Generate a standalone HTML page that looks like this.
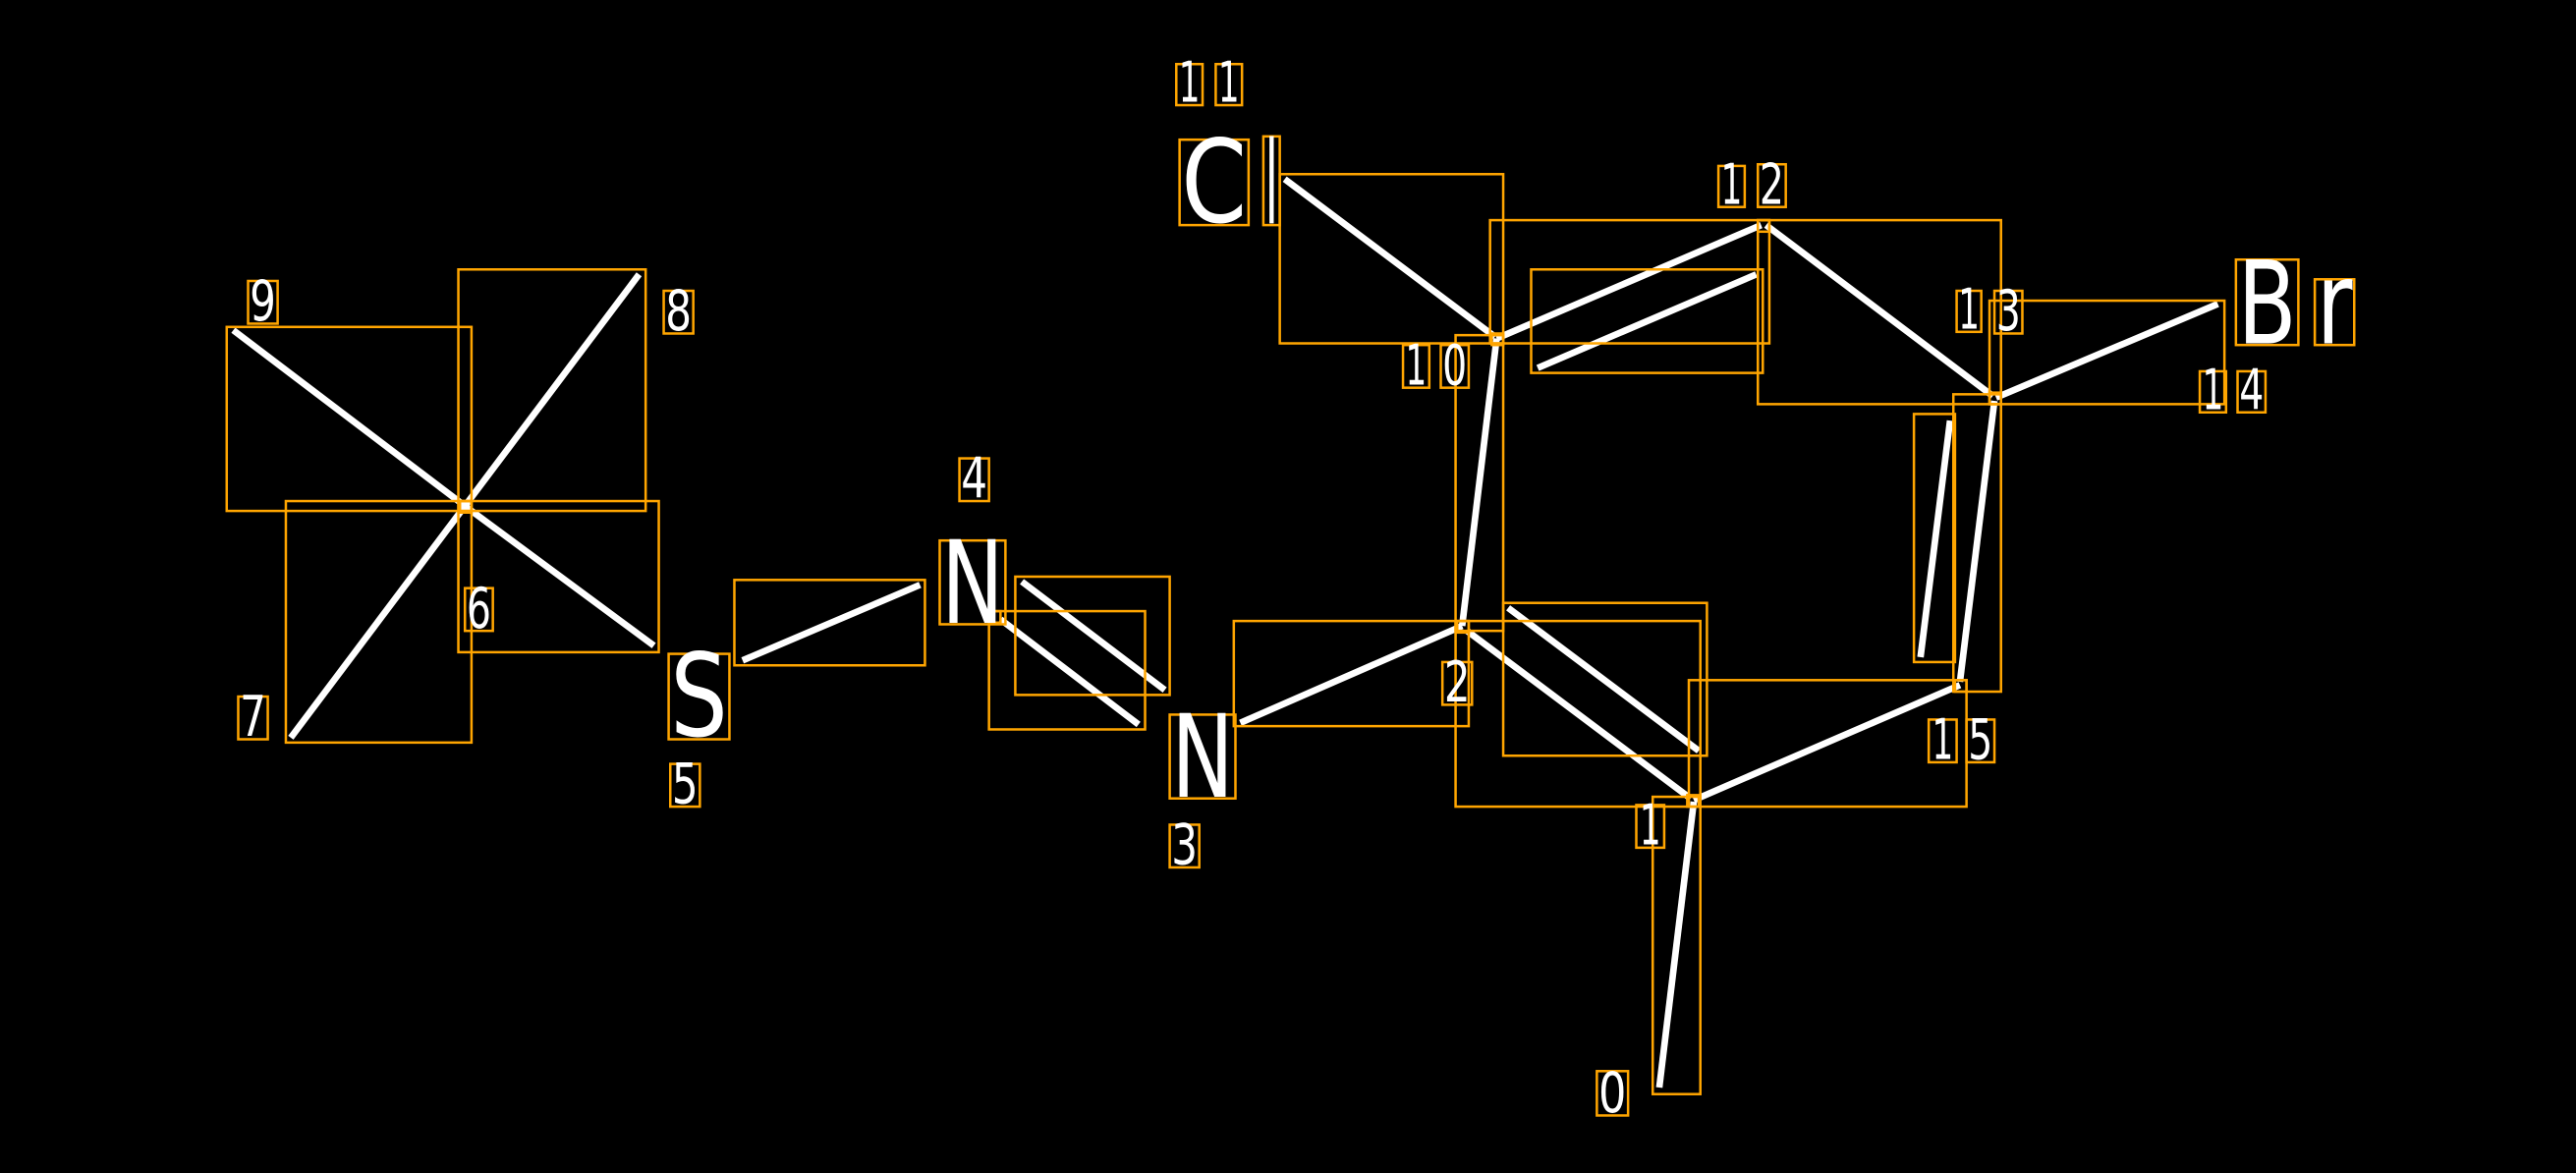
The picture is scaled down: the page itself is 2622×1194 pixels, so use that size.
<!DOCTYPE html>
<html><head><meta charset="utf-8"><style>html,body{margin:0;padding:0;background:#000;width:2622px;height:1194px;overflow:hidden}svg{display:block}</style></head><body>
<svg width="2622" height="1194" viewBox="0 0 1568 714" xmlns="http://www.w3.org/2000/svg">
<rect width="1568" height="714" fill="#000"/>
<g stroke="#fff" stroke-width="4" stroke-linecap="butt">
<line x1="1010" y1="662" x2="1031" y2="488"/>
<line x1="893" y1="384" x2="1029" y2="486"/>
<line x1="918" y1="370" x2="1034" y2="457"/>
<line x1="890" y1="381" x2="755" y2="440"/>
<line x1="609" y1="377" x2="693" y2="441"/>
<line x1="622" y1="354" x2="709" y2="420"/>
<line x1="452" y1="402" x2="560" y2="356"/>
<line x1="398" y1="393" x2="283" y2="308"/>
<line x1="283" y1="308" x2="177" y2="449"/>
<line x1="283" y1="308" x2="389" y2="167"/>
<line x1="142" y1="201" x2="283" y2="308"/>
<line x1="890" y1="381" x2="911" y2="206"/>
<line x1="782" y1="109" x2="910" y2="205"/>
<line x1="911" y1="206" x2="1072" y2="137"/>
<line x1="936" y1="224" x2="1069" y2="167"/>
<line x1="1075" y1="137" x2="1213" y2="241"/>
<line x1="1215" y1="242" x2="1350" y2="185"/>
<line x1="1214" y1="244" x2="1193" y2="415"/>
<line x1="1187" y1="256" x2="1169" y2="400"/>
<line x1="1031" y1="487" x2="1193" y2="417"/>
</g>
<g fill="none" stroke="#FFA500" stroke-width="1.5">
<rect x="1006" y="485" width="29" height="181"/>
<rect x="886" y="378" width="149" height="113"/>
<rect x="915" y="367" width="124" height="93"/>
<rect x="751" y="378" width="143" height="64"/>
<rect x="602" y="372" width="95" height="72"/>
<rect x="618" y="351" width="94" height="72"/>
<rect x="447" y="353" width="116" height="52"/>
<rect x="279" y="305" width="122" height="92"/>
<rect x="174" y="305" width="113" height="147"/>
<rect x="279" y="164" width="114" height="147"/>
<rect x="138" y="199" width="149" height="112"/>
<rect x="886" y="204" width="29" height="180"/>
<rect x="779" y="106" width="136" height="103"/>
<rect x="907" y="134" width="170" height="75"/>
<rect x="932" y="164" width="141" height="63"/>
<rect x="1070" y="134" width="148" height="112"/>
<rect x="1211" y="183" width="143" height="63"/>
<rect x="1189" y="240" width="29" height="181"/>
<rect x="1165" y="252" width="25" height="151"/>
<rect x="1028" y="414" width="169" height="77"/>
<rect x="1027" y="484" width="7" height="7"/><rect x="887" y="378" width="7" height="7"/><rect x="280" y="305" width="7" height="7"/><rect x="908" y="203" width="7" height="7"/><rect x="1070" y="134" width="7" height="7"/><rect x="1211" y="239" width="7" height="7"/><rect x="1190" y="414" width="7" height="7"/><rect x="602" y="372" width="7" height="7"/>
</g>
<g fill="none" stroke="#FFA500" stroke-width="1.5">
<rect x="716" y="39" width="16" height="25"/><rect x="740" y="39" width="16" height="25"/>
<rect x="1046" y="101" width="16" height="25"/><rect x="1070" y="100" width="17" height="26"/>
<rect x="1191" y="177" width="15" height="25"/><rect x="1214" y="177" width="17" height="26"/>
<rect x="1339" y="226" width="16" height="25"/><rect x="1362" y="226" width="17" height="25"/>
<rect x="854" y="210" width="16" height="26"/><rect x="877" y="210" width="17" height="26"/>
<rect x="1174" y="438" width="17" height="26"/><rect x="1197" y="438" width="17" height="26"/>
<rect x="151" y="171" width="18" height="26"/><rect x="404" y="177" width="18" height="26"/>
<rect x="283" y="358" width="17" height="26"/><rect x="145" y="424" width="18" height="26"/>
<rect x="408" y="465" width="18" height="26"/><rect x="584" y="279" width="18" height="26"/>
<rect x="712" y="502" width="18" height="26"/><rect x="878" y="403" width="18" height="26"/>
<rect x="996" y="490" width="17" height="26"/><rect x="972" y="652" width="19" height="27"/>
<rect x="718" y="85" width="42" height="52"/><rect x="769" y="83" width="10" height="54"/>
<rect x="1361" y="158" width="38" height="52"/><rect x="1409" y="170" width="24" height="40"/>
<rect x="572" y="329" width="40" height="51"/><rect x="407" y="398" width="37" height="52"/><rect x="712" y="435" width="40" height="51"/>
</g>
<g fill="#fff" font-family="DejaVu Sans, sans-serif" font-size="34" text-anchor="middle">
<text x="724" y="62" textLength="13" lengthAdjust="spacingAndGlyphs">1</text><text x="748" y="62" textLength="13" lengthAdjust="spacingAndGlyphs">1</text>
<text x="1054" y="124" textLength="13" lengthAdjust="spacingAndGlyphs">1</text><text x="1078.5" y="124" textLength="15" lengthAdjust="spacingAndGlyphs">2</text>
<text x="1198.5" y="200" textLength="13" lengthAdjust="spacingAndGlyphs">1</text><text x="1222.5" y="201" textLength="15" lengthAdjust="spacingAndGlyphs">3</text>
<text x="1347" y="249" textLength="13" lengthAdjust="spacingAndGlyphs">1</text><text x="1370.5" y="249" textLength="15" lengthAdjust="spacingAndGlyphs">4</text>
<text x="862" y="234" textLength="13" lengthAdjust="spacingAndGlyphs">1</text><text x="885.5" y="234" textLength="15" lengthAdjust="spacingAndGlyphs">0</text>
<text x="1182.5" y="462" textLength="13" lengthAdjust="spacingAndGlyphs">1</text><text x="1205.5" y="462" textLength="15" lengthAdjust="spacingAndGlyphs">5</text>
<text x="160" y="195" textLength="16" lengthAdjust="spacingAndGlyphs">9</text>
<text x="413" y="201" textLength="16" lengthAdjust="spacingAndGlyphs">8</text>
<text x="291.5" y="382" textLength="15" lengthAdjust="spacingAndGlyphs">6</text>
<text x="154" y="448" textLength="16" lengthAdjust="spacingAndGlyphs">7</text>
<text x="417" y="489" textLength="16" lengthAdjust="spacingAndGlyphs">5</text>
<text x="593" y="303" textLength="16" lengthAdjust="spacingAndGlyphs">4</text>
<text x="721" y="526" textLength="16" lengthAdjust="spacingAndGlyphs">3</text>
<text x="887" y="427" textLength="16" lengthAdjust="spacingAndGlyphs">2</text>
<text x="1004.5" y="514" textLength="13" lengthAdjust="spacingAndGlyphs">1</text>
<text x="981.5" y="677" textLength="17" lengthAdjust="spacingAndGlyphs">0</text>
</g>
<g fill="#fff" font-family="DejaVu Sans, sans-serif" font-size="70" text-anchor="middle">
<text x="739" y="135" textLength="40" lengthAdjust="spacingAndGlyphs">C</text>
<text x="774" y="136" textLength="8" lengthAdjust="spacingAndGlyphs">l</text>
<text x="1380" y="209" textLength="36" lengthAdjust="spacingAndGlyphs">B</text>
<text x="1421" y="209" textLength="22" lengthAdjust="spacingAndGlyphs">r</text>
<text x="592" y="379" textLength="38" lengthAdjust="spacingAndGlyphs">N</text>
<text x="425.5" y="448" textLength="35" lengthAdjust="spacingAndGlyphs">S</text>
<text x="732" y="485" textLength="38" lengthAdjust="spacingAndGlyphs">N</text>
</g>
</svg>
</body></html>
